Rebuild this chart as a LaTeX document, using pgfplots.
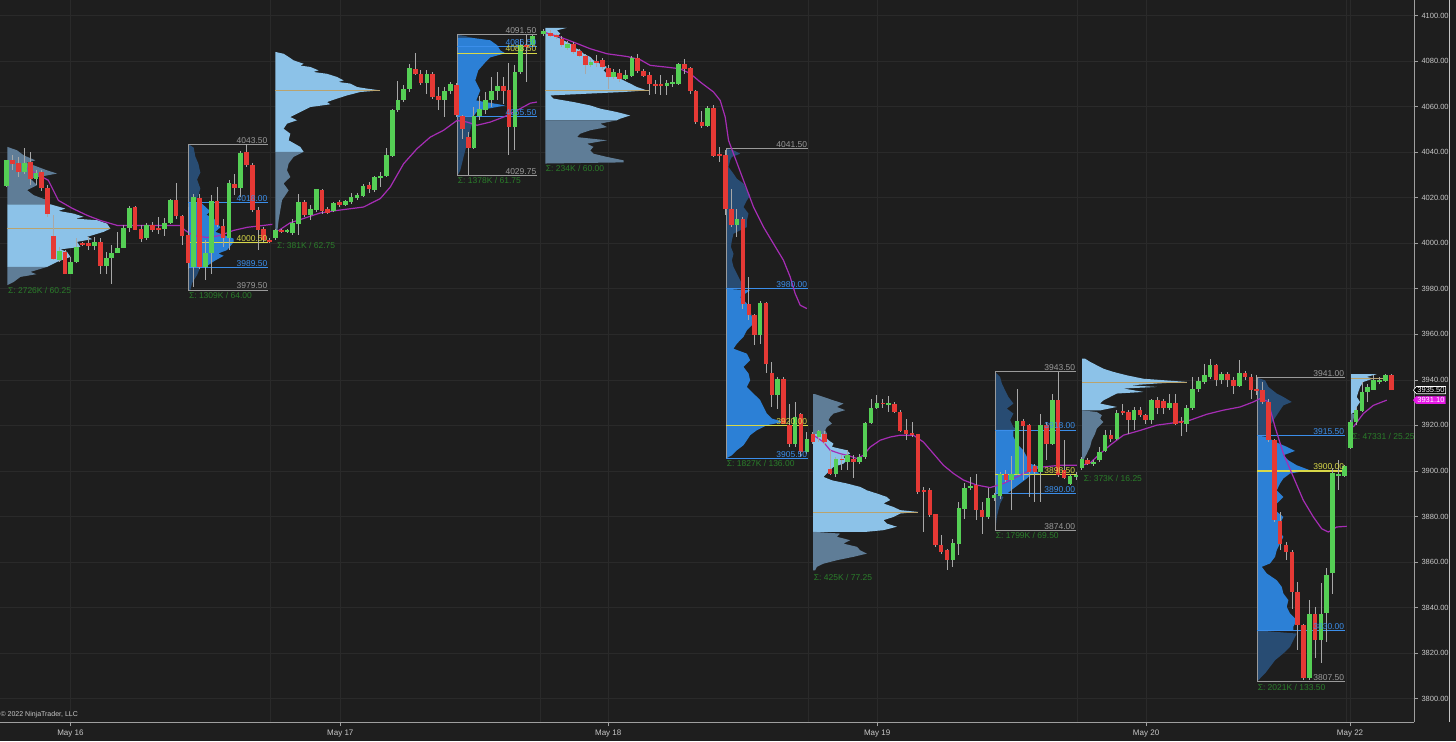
\documentclass[border=0pt]{standalone}
\usepackage{pgfplots}
\pgfplotsset{compat=1.18}
\usepackage{pgfplotstable}
\usepackage{fontspec}
\setmainfont{Liberation Sans}
\usetikzlibrary{shapes.symbols}
\definecolor{bg}{HTML}{1E1E1E}
\definecolor{gridc}{HTML}{2A2A2A}
\definecolor{up}{HTML}{55CF55}
\definecolor{dn}{HTML}{E53935}
\definecolor{wick}{HTML}{A8A8A8}
\definecolor{vwap}{HTML}{A62DB5}
\definecolor{ethva}{HTML}{8CC2E8}
\definecolor{ethout}{HTML}{5F7D97}
\definecolor{rthva}{HTML}{2C80D6}
\definecolor{rthout}{HTML}{284C73}
\definecolor{lgray}{HTML}{9A9A9A}
\definecolor{lblue}{HTML}{3B8EEA}
\definecolor{lyel}{HTML}{D8D848}
\definecolor{ltan}{HTML}{B9A36E}
\definecolor{lgreen}{HTML}{2A7D2A}
\definecolor{tickc}{HTML}{C8C8C8}
\definecolor{magc}{HTML}{E619E6}
\newcommand{\lblfont}{\fontsize{8.5}{9}\selectfont}
\newcommand{\hlev}[4]{\addplot[#4, line width=0.8pt, forget plot] coordinates {(#1,#3)(#2,#3)};}
\newcommand{\vlev}[4]{\addplot[#4, line width=0.8pt, forget plot] coordinates {(#1,#2)(#1,#3)};}
\newcommand{\lbl}[4]{\node[anchor=south east, text=#4, font=\lblfont, inner sep=0.8pt] at (axis cs:#1,#2) {#3};}
\newcommand{\sig}[3]{\node[anchor=west, text=lgreen, font=\lblfont, inner sep=0.5pt] at (axis cs:#1,#2) {#3};}

\pgfplotstableread{
x o h l c
6.0 4025.0 4036.7 4024.7 4036.4
12.3 4036.4 4038.6 4032.3 4035.0
18.3 4035.3 4037.9 4029.1 4031.3
24.0 4031.3 4042.0 4030.6 4035.4
30.0 4035.7 4040.1 4025.5 4028.4
35.7 4028.4 4032.3 4025.5 4030.9
41.3 4031.3 4032.0 4023.0 4024.4
47.3 4024.4 4025.5 4011.6 4012.7
53.0 4003.0 4012.3 3992.5 3993.3
59.0 3992.5 3998.4 3991.8 3996.6
64.7 3996.2 3996.9 3986.7 3986.7
70.3 3986.7 3994.0 3986.7 3991.8
76.3 3991.8 4002.1 3991.1 3998.4
82.3 3999.8 4000.5 3999.0 3999.6
88.0 4000.2 4002.8 3996.9 3998.7
94.0 3998.7 4002.8 3996.9 4000.4
100.0 4000.6 4002.1 3986.7 3990.1
106.0 3989.9 3996.2 3986.7 3993.3
111.3 3993.3 3999.1 3982.3 3995.9
117.3 3995.9 4005.0 3995.5 3998.0
123.3 3998.0 4008.2 3997.7 4006.7
129.0 4006.7 4016.2 4005.0 4015.5
134.7 4015.7 4016.2 4005.7 4005.7
140.7 4006.1 4007.9 4000.6 4001.8
146.3 4002.1 4008.9 4001.3 4008.2
152.0 4008.2 4009.4 4005.0 4005.7
158.0 4006.7 4011.6 4004.2 4006.1
164.0 4006.1 4011.1 4003.1 4009.1
170.0 4009.1 4019.6 4008.6 4018.9
175.7 4018.9 4026.5 4010.8 4012.0
181.7 4012.0 4012.3 3999.1 4003.1
187.7 4003.5 4016.0 3988.9 3991.1
193.3 3989.6 4021.8 3980.8 4020.3
199.3 4019.9 4021.8 3988.9 3989.6
205.0 3989.6 4001.3 3983.8 3995.5
211.0 3995.5 4021.1 3986.7 4018.4
216.7 4018.6 4024.7 4007.2 4007.9
222.7 4007.6 4010.8 3998.4 4002.1
228.7 4002.1 4027.7 3997.2 4026.5
234.3 4026.2 4030.6 4021.1 4024.4
240.0 4024.4 4040.5 4020.3 4039.8
246.0 4040.1 4043.5 4033.5 4034.5
252.0 4034.5 4035.4 4013.8 4014.5
257.7 4014.5 4016.0 3996.9 4005.7
263.3 4006.4 4007.2 4000.6 4001.3
269.3 4001.6 4002.1 3999.9 4000.6
275.3 4002.1 4006.4 4001.3 4005.7
281.0 4005.7 4006.4 4004.6 4005.4
286.7 4005.4 4006.4 4004.6 4005.6
292.3 4004.6 4010.8 4003.5 4009.1
298.0 4008.6 4021.8 4003.5 4018.1
304.0 4018.1 4018.8 4011.5 4012.3
310.0 4012.3 4016.7 4010.1 4014.9
316.0 4014.7 4024.0 4013.7 4023.7
321.7 4023.5 4024.0 4013.0 4014.2
327.3 4015.0 4015.9 4012.7 4013.4
333.3 4014.2 4018.1 4013.7 4017.8
339.0 4018.1 4019.1 4015.9 4016.6
345.0 4016.6 4019.1 4016.3 4018.4
350.7 4018.1 4022.1 4017.4 4020.3
356.7 4020.0 4022.1 4018.8 4021.0
362.7 4020.7 4026.2 4020.3 4025.3
368.7 4025.7 4026.9 4022.1 4023.7
374.3 4023.2 4029.4 4022.5 4029.0
380.0 4029.0 4031.3 4024.7 4029.4
386.0 4029.4 4041.8 4029.1 4038.6
392.0 4038.2 4059.1 4037.9 4058.6
397.7 4058.3 4071.1 4057.6 4063.0
403.3 4062.7 4069.3 4062.0 4067.9
409.3 4067.6 4078.8 4066.4 4076.9
415.0 4076.6 4083.7 4073.7 4074.2
420.7 4074.2 4075.9 4069.3 4070.4
426.7 4070.4 4075.9 4065.4 4074.4
432.3 4074.4 4075.2 4063.5 4064.2
438.3 4064.5 4068.6 4058.3 4062.7
444.0 4062.7 4068.6 4055.4 4066.7
450.0 4066.7 4070.8 4065.7 4070.0
456.0 4069.6 4070.4 4055.4 4056.2
462.0 4055.9 4056.4 4045.9 4050.3
468.0 4046.6 4048.8 4029.8 4042.0
473.7 4042.0 4059.8 4041.5 4055.9
479.3 4055.9 4064.5 4054.0 4058.8
485.3 4058.6 4066.4 4056.9 4062.7
491.3 4063.0 4073.0 4059.8 4066.7
497.3 4066.7 4075.2 4062.7 4068.9
503.0 4069.0 4073.0 4061.3 4066.8
508.7 4067.4 4079.1 4038.6 4051.0
514.7 4051.0 4078.1 4040.8 4075.2
520.3 4075.2 4089.8 4074.4 4086.9
526.3 4086.9 4091.3 4070.8 4086.5
532.3 4086.9 4091.5 4086.5 4090.8
543.3 4091.7 4094.0 4091.0 4093.0
550.0 4092.3 4093.5 4090.5 4091.1
556.0 4091.1 4091.7 4089.8 4090.8
561.7 4089.8 4090.8 4086.1 4086.9
567.3 4085.8 4088.8 4085.0 4087.3
573.3 4087.3 4088.3 4083.2 4084.0
579.0 4084.4 4085.4 4081.8 4082.2
585.0 4082.2 4083.2 4074.4 4078.4
590.7 4078.4 4081.0 4077.4 4079.6
596.0 4079.6 4082.8 4077.4 4079.4
602.0 4080.3 4081.5 4076.6 4077.4
608.0 4076.9 4078.1 4067.9 4073.0
613.3 4073.0 4076.6 4072.2 4075.2
619.3 4074.9 4076.6 4070.8 4072.0
625.3 4072.2 4075.9 4071.8 4074.0
631.7 4073.4 4082.0 4073.0 4081.5
637.3 4081.5 4083.2 4074.9 4075.5
643.3 4075.5 4076.6 4073.0 4073.4
649.0 4074.0 4075.2 4064.9 4069.8
655.0 4070.1 4071.5 4065.7 4069.3
660.7 4069.8 4073.7 4064.9 4069.0
666.7 4069.0 4071.5 4064.9 4070.5
672.3 4070.1 4074.0 4068.6 4070.3
678.3 4069.8 4079.1 4069.3 4078.5
684.0 4078.8 4081.0 4074.1 4076.6
690.0 4077.1 4077.4 4065.7 4066.8
695.7 4066.8 4067.1 4052.2 4053.2
701.7 4053.2 4058.0 4050.7 4051.3
707.3 4051.3 4060.1 4051.0 4059.5
713.3 4059.5 4060.5 4037.9 4038.2
719.3 4039.3 4042.2 4035.7 4038.6
725.0 4038.6 4040.8 4012.3 4015.2
731.0 4015.2 4024.0 4007.1 4007.9
736.7 4007.9 4015.2 4002.7 4010.8
742.7 4010.8 4011.5 3971.3 3973.5
748.7 3973.5 3985.2 3966.2 3968.4
754.0 3968.4 3969.1 3955.2 3959.6
760.0 3959.9 3974.6 3955.9 3973.9
766.0 3973.8 3974.2 3942.8 3946.9
771.7 3942.8 3947.9 3928.1 3933.3
777.3 3933.3 3941.3 3927.4 3940.6
783.3 3940.6 3941.3 3920.8 3920.8
789.3 3920.1 3929.6 3910.6 3912.0
795.0 3912.0 3930.3 3910.6 3923.7
800.7 3924.8 3925.5 3906.2 3908.4
806.7 3908.4 3917.2 3907.6 3914.2
812.7 3916.4 3917.1 3912.0 3912.7
818.7 3914.9 3918.2 3912.7 3917.4
824.3 3916.4 3917.5 3911.5 3912.7
830.0 3901.0 3909.1 3898.1 3898.8
835.7 3898.8 3906.0 3897.5 3905.4
841.7 3905.4 3906.8 3900.3 3904.7
847.3 3904.0 3909.1 3900.3 3906.9
853.3 3905.4 3906.9 3896.7 3904.0
859.3 3904.0 3907.6 3903.2 3906.2
865.0 3906.2 3921.5 3905.4 3921.1
871.0 3921.1 3931.8 3920.8 3927.8
876.7 3927.8 3933.2 3927.4 3930.0
882.7 3930.0 3931.8 3927.8 3929.3
888.3 3929.3 3932.8 3925.9 3929.4
894.3 3929.3 3930.3 3925.5 3925.9
900.0 3925.9 3926.6 3917.1 3917.4
906.0 3917.9 3923.0 3913.5 3916.4
912.0 3916.8 3921.5 3914.9 3916.1
917.7 3916.1 3916.4 3890.1 3890.8
923.7 3891.2 3893.0 3873.2 3891.0
929.7 3891.5 3892.3 3879.8 3880.6
935.3 3881.0 3881.3 3866.7 3867.4
941.0 3867.4 3871.8 3863.7 3864.5
947.0 3865.2 3865.9 3856.4 3860.8
952.7 3861.1 3870.3 3857.9 3868.4
958.7 3868.1 3886.4 3863.0 3883.8
964.3 3883.5 3894.5 3879.1 3892.7
970.3 3893.0 3897.4 3891.5 3893.1
976.0 3893.7 3898.8 3878.4 3882.8
982.0 3883.0 3886.4 3872.5 3879.8
988.0 3879.8 3892.3 3879.1 3888.3
994.0 3888.3 3890.5 3887.0 3889.3
1000.0 3888.9 3899.6 3887.9 3898.6
1005.7 3898.6 3900.3 3895.2 3895.9
1011.3 3895.9 3906.5 3882.8 3898.6
1017.0 3898.8 3936.2 3898.1 3921.8
1023.0 3922.0 3923.0 3895.9 3919.6
1029.0 3920.1 3920.8 3888.6 3899.6
1034.7 3902.1 3903.2 3886.4 3899.6
1040.3 3899.6 3925.2 3886.4 3920.1
1046.3 3920.1 3921.5 3904.7 3911.7
1052.3 3911.7 3934.0 3911.3 3931.0
1058.0 3931.3 3943.5 3897.4 3898.1
1064.0 3900.6 3913.5 3896.7 3897.1
1070.0 3894.5 3898.8 3893.7 3897.7
1076.0 3897.5 3899.5 3896.0 3898.0
1081.7 3901.1 3906.0 3900.5 3905.4
1087.3 3904.7 3905.5 3902.5 3903.2
1093.3 3903.2 3905.0 3902.0 3904.0
1099.3 3904.7 3910.6 3904.0 3908.4
1105.0 3908.8 3917.9 3908.4 3915.7
1110.7 3915.7 3917.9 3912.8 3913.9
1116.7 3914.2 3926.6 3913.5 3925.6
1122.7 3925.9 3929.6 3924.5 3925.8
1128.3 3925.9 3926.6 3916.4 3922.3
1134.0 3922.3 3928.1 3917.9 3926.9
1140.0 3926.9 3928.1 3923.7 3924.5
1145.7 3924.5 3925.2 3920.8 3922.3
1151.7 3922.3 3931.8 3920.8 3931.0
1157.7 3931.0 3932.5 3925.2 3927.8
1163.7 3930.7 3931.8 3925.2 3927.8
1169.3 3927.8 3934.0 3926.6 3929.9
1175.3 3929.9 3934.0 3920.1 3920.8
1181.0 3921.5 3923.7 3915.2 3921.3
1186.7 3920.8 3928.8 3917.1 3927.8
1192.7 3927.8 3941.3 3926.6 3936.2
1198.3 3936.2 3941.3 3934.7 3939.5
1204.3 3939.1 3947.1 3938.4 3942.0
1210.0 3941.3 3949.3 3940.5 3946.4
1216.0 3946.4 3947.1 3937.2 3939.8
1221.7 3939.8 3943.5 3938.4 3942.7
1227.7 3942.7 3943.5 3936.9 3939.8
1233.3 3939.8 3941.3 3934.0 3937.2
1239.3 3937.2 3948.6 3936.9 3943.0
1245.0 3943.0 3943.9 3939.8 3941.3
1251.0 3941.3 3942.7 3931.8 3935.7
1256.7 3935.7 3942.0 3933.2 3935.6
1262.7 3935.4 3939.1 3929.6 3930.3
1268.3 3930.3 3931.8 3912.8 3913.5
1274.3 3913.5 3914.2 3877.6 3878.4
1280.0 3877.9 3882.0 3865.2 3868.1
1286.0 3867.7 3868.9 3860.8 3864.5
1292.0 3864.5 3865.2 3839.6 3846.9
1297.7 3846.9 3851.3 3821.3 3832.3
1303.3 3832.3 3833.0 3808.2 3808.9
1309.3 3808.9 3843.3 3808.2 3837.1
1315.0 3837.1 3840.3 3817.7 3826.0
1321.0 3826.0 3850.6 3815.5 3837.1
1326.7 3837.7 3857.2 3825.0 3854.5
1332.7 3855.0 3901.1 3846.2 3898.9
1338.3 3898.1 3904.7 3891.5 3898.3
1344.7 3897.7 3902.5 3897.4 3902.1
1350.3 3910.3 3922.3 3909.8 3921.5
1356.0 3921.5 3928.1 3920.1 3926.7
1362.0 3926.4 3939.1 3925.9 3934.7
1367.7 3934.7 3938.4 3930.3 3936.9
1373.7 3935.7 3942.0 3935.4 3939.8
1379.3 3939.5 3941.3 3938.4 3939.6
1385.3 3939.5 3942.7 3939.1 3942.0
1391.3 3942.0 3942.5 3935.4 3935.5
}\candles

\begin{document}
\begin{tikzpicture}
\fill[bg] (0,0) rectangle (1456pt,741pt);
\draw[gray!45, line width=0.8pt] (1449pt,19pt) -- (1449pt,741pt);
\begin{axis}[
  at={(0pt,19pt)}, anchor=south west,
  scale only axis, width=1414pt, height=722pt,
  xmin=0, xmax=1414, ymin=3789.68, ymax=4106.63,
  clip mode=individual,
  axis x line*=bottom, axis y line*=right,
  axis line style={draw=gray!75, line width=0.8pt},
  tick align=outside, major tick length=4pt, minor tick length=0pt,
  tick style={draw=gray!75, line width=0.7pt},
  xtick={70,340,608,877,1146,1350},
  xticklabels={May 16,May 17,May 18,May 19,May 20,May 22},
  minor xtick={270,540,808,1077,1346},
  ytick={3800,3820,...,4100},
  ymajorgrids, xmajorgrids, xminorgrids,
  grid style={draw=gridc, line width=0.7pt},
  minor grid style={draw=gridc, line width=0.7pt},
  /pgf/number format/assume math mode=true,
  yticklabel={\pgfmathprintnumber[fixed,fixed zerofill,precision=2,1000 sep={}]{\tick}},
  yticklabel style={font=\fontsize{7.5}{8}\selectfont, text=tickc, xshift=0pt},
  xticklabel style={font=\fontsize{8}{9}\selectfont, text=tickc, yshift=0pt},
]
% ---------- volume profiles ----------
% P1
\addplot[fill=ethout, draw=none, forget plot] coordinates {(7,4042.3) (16.7,4040.8) (23.3,4038.6) (35,4036.4) (26,4035.3) (33.3,4034.2) (46.7,4032.0) (56.7,4030.6) (30,4028.4) (36.7,4025.5) (26.7,4023.3) (33.3,4021.1) (46.7,4018.9) (50,4017.1) (7,4017.1)};
\addplot[fill=ethva, draw=none, forget plot] coordinates {(7,4017.1) (50,4017.1) (65,4015.2) (58,4014.2) (73.3,4013.0) (83.3,4011.6) (75,4010.8) (96.7,4010.1) (106.7,4008.6) (110,4006.4) (103.3,4005.0) (86.7,4002.8) (92,4001.8) (76.7,4000.6) (80,3998.4) (60,3997.3) (66.7,3996.2) (70,3994.0) (56.7,3991.8) (46.7,3989.6) (7,3989.6)};
\addplot[fill=ethout, draw=none, forget plot] coordinates {(7,3989.6) (46.7,3989.6) (30,3987.4) (36,3986.4) (20,3985.2) (13.3,3983.0) (7,3981.6)};
% P2
\addplot[fill=rthout, draw=none, forget plot] coordinates {(188,4043.5) (193.3,4042) (195,4038) (198,4035) (200,4031) (196.7,4028) (200,4024) (198,4021) (195,4018) (188,4018)};
\addplot[fill=rthva, draw=none, forget plot] coordinates {(188,4018) (200,4018) (210,4014) (206,4012.5) (213.3,4011) (220,4007) (215,4005) (233.3,4002) (233.3,4000.5) (226.7,3997) (218,3995.5) (223.3,3994.5) (213.3,3992) (205,3989.5) (188,3989.5)};
\addplot[fill=rthout, draw=none, forget plot] coordinates {(188,3989.5) (200,3989.5) (196.7,3986) (191.7,3982.5) (190,3979.5) (188,3979.5)};
% P3
\addplot[fill=ethva, draw=none, forget plot] coordinates {(275,4084.0) (283.3,4083.2) (288.3,4081.8) (293.3,4080.3) (303.3,4078.8) (300,4078.0) (310,4077.4) (318.3,4075.9) (313,4075.2) (326.7,4074.4) (336.7,4073.0) (343.3,4071.5) (338,4070.8) (350,4070.1) (356.7,4068.6) (366.7,4067.9) (380,4067.1) (360,4066.4) (346.7,4064.9) (336.7,4063.5) (326.7,4062.0) (330,4061) (310,4059.8) (300,4057.6) (290,4055.4) (296.7,4054.0) (286.7,4052.5) (283.3,4050.3) (290,4048.1) (288.3,4045.2) (300,4042.3) (303.3,4040.1) (275,4040.1)};
\addplot[fill=ethout, draw=none, forget plot] coordinates {(275,4040.1) (303.3,4040.1) (293.3,4037.9) (288.3,4035.0) (286.7,4032.0) (290,4029.1) (283.3,4026.2) (288.3,4023.2) (281.7,4018.9) (280,4014.5) (278.3,4010.1) (276.7,4004.2) (275,4003.5)};
% P4
\addplot[fill=rthout, draw=none, forget plot] coordinates {(457,4091.5) (465,4091.0) (470,4090.3) (457,4090.3)};
\addplot[fill=rthva, draw=none, forget plot] coordinates {(457,4090.3) (470,4090.3) (490,4089.1) (497,4086.9) (500,4084.7) (505,4083.4) (490,4081.6) (485,4079.4) (478,4075.9) (475,4071.5) (480,4067.1) (476,4062.7) (505,4060.5) (478,4058.3) (476,4057.5) (473,4055.5) (457,4055.5)};
\addplot[fill=rthout, draw=none, forget plot] coordinates {(457,4055.5) (473.3,4055.5) (471.7,4052.5) (470,4049.6) (468.3,4046.6) (466.7,4043.7) (465,4040.8) (463.3,4037.9) (461.7,4035.0) (460,4032.0) (457.3,4029.75) (457,4029.75)};
% P5
\addplot[fill=ethva, draw=none, forget plot] coordinates {(545,4094.6) (566.7,4094.6) (556.7,4093.5) (560,4092.0) (556.7,4090.5) (563.3,4089.1) (570,4087.6) (573.3,4086.1) (580,4084.7) (583.3,4083.2) (590,4081.8) (593.3,4080.3) (600,4078.8) (606.7,4077.4) (603.3,4075.9) (606.7,4074.4) (616.7,4073.0) (623.3,4071.5) (630,4070.1) (636.7,4068.6) (646.7,4067.1) (623.3,4066.4) (550,4064.9) (553.3,4063.5) (573.3,4062.0) (590,4060.5) (600,4059.1) (616.7,4057.6) (630,4056.1) (620,4054.7) (616.7,4054.0) (545,4054.0)};
\addplot[fill=ethout, draw=none, forget plot] coordinates {(545,4054.0) (616.7,4054.0) (600,4052.5) (606.7,4051.0) (590,4049.6) (580,4048.1) (576.7,4046.6) (606.7,4045.2) (586.7,4043.7) (593.3,4042.3) (590,4040.8) (593.3,4039.3) (606.7,4037.9) (623.3,4036.4) (623.3,4035.5) (545,4035.0)};
% P6
\addplot[fill=rthout, draw=none, forget plot] coordinates {(726,4041.5) (733.3,4040.8) (740,4039.3) (731.7,4037.9) (730,4036.4) (728.3,4033.5) (733.3,4030.5) (736.7,4028.3) (743.3,4026.2) (746.7,4023.2) (750,4021.0) (746.7,4018.8) (743.3,4015.9) (748.3,4013.0) (746.7,4010.1) (746.7,4007.1) (733.3,4004.2) (731.7,4001.3) (730.7,3998.4) (733.3,3995.4) (731.7,3992.5) (733.3,3989.6) (736.7,3986.6) (740,3983.7) (743.3,3980.8) (745,3980.0) (726,3980.0)};
\addplot[fill=rthva, draw=none, forget plot] coordinates {(726,3980.0) (750,3979.3) (740,3976.4) (746.7,3973.5) (750,3970.6) (751.7,3967.6) (753.3,3964.7) (746.7,3961.8) (743.3,3958.9) (736.7,3955.9) (733.3,3953.7) (746.7,3951.5) (750,3948.6) (743.3,3945.7) (748.3,3942.8) (750,3939.8) (746.7,3936.9) (753.3,3934.0) (760,3931.1) (763.3,3928.1) (766.7,3925.2) (771.7,3923.0) (783.3,3921.5) (766.7,3920.1) (756.7,3917.9) (750,3915.7) (746.7,3913.5) (743.3,3911.3) (736.7,3909.1) (731.7,3906.9) (726,3905.5)};
% P7
\addplot[fill=ethout, draw=none, forget plot] coordinates {(813,3933.7) (815,3933.7) (823.3,3932.5) (833.3,3931.0) (843.3,3929.6) (836.7,3928.1) (845,3926.7) (833.3,3925.2) (830,3923.7) (828.3,3922.3) (831.7,3920.8) (826.7,3919.3) (825,3917.9) (826.7,3916.4) (813,3916.4)};
\addplot[fill=ethva, draw=none, forget plot] coordinates {(813,3916.4) (826.7,3916.4) (825,3915.0) (828.3,3913.5) (833.3,3912.0) (831.7,3910.6) (846.7,3909.1) (850,3907.6) (843.3,3906.2) (846.7,3904.7) (843.3,3903.2) (833.3,3901.8) (830,3900.3) (826.7,3898.9) (823.3,3897.4) (831.7,3895.9) (846.7,3894.5) (860,3893.0) (866.7,3891.5) (876.7,3890.1) (886.7,3888.6) (890,3887.2) (883.3,3885.7) (893.3,3884.2) (900,3882.8) (918.3,3882.0) (900,3881.3) (893.3,3879.8) (883.3,3878.4) (886.7,3876.9) (896.7,3875.5) (883.3,3874.0) (866.7,3873.3) (813,3873.3)};
\addplot[fill=ethout, draw=none, forget plot] coordinates {(813,3873.3) (840,3872.5) (836.7,3871.1) (850,3869.6) (843.3,3868.1) (856.7,3866.7) (860,3865.2) (866.7,3863.7) (853.3,3862.3) (836.7,3860.8) (823.3,3859.3) (816.7,3857.9) (815,3856.4) (813,3856.4)};
% P8
\addplot[fill=rthout, draw=none, forget plot] coordinates {(995,3943.5) (1000,3941.3) (1001.7,3938.4) (1005,3935.4) (1008.3,3932.5) (1013.3,3929.6) (1006.7,3927.4) (1013.3,3925.2) (1010,3922.3) (1013.3,3919.3) (1016.7,3918.0) (995,3918.0)};
\addplot[fill=rthva, draw=none, forget plot] coordinates {(995,3918.0) (1013.3,3918.0) (1013.3,3915.0) (1016.7,3912.0) (1023.3,3909.1) (1026.7,3906.2) (1030,3903.2) (1040,3901.8) (1033.3,3900.3) (1040,3898.9) (1030,3898.1) (1026.7,3896.7) (1020,3894.5) (1013.3,3892.3) (1006.7,3890.0) (995,3890.0)};
\addplot[fill=rthout, draw=none, forget plot] coordinates {(995,3890.0) (1003.3,3888.6) (1000,3885.7) (998.3,3882.8) (996.7,3879.8) (996,3876.9) (995.5,3874.0) (995,3874.0)};
% P9
\addplot[fill=ethva, draw=none, forget plot] coordinates {(1082,3949.3) (1085,3949.3) (1090,3947.9) (1096.7,3946.4) (1103.3,3944.9) (1113.3,3943.5) (1126.7,3942.0) (1143.3,3940.5) (1186.7,3939.1) (1156.7,3938.4) (1130,3937.6) (1156.7,3936.9) (1123.3,3936.2) (1143.3,3934.7) (1116.7,3934.0) (1110,3932.5) (1103.3,3931.0) (1100,3929.6) (1116.7,3928.1) (1100,3926.6) (1082,3926.6)};
\addplot[fill=ethout, draw=none, forget plot] coordinates {(1082,3926.6) (1096.7,3925.9) (1101.7,3924.5) (1100,3923.0) (1103.3,3921.5) (1100,3920.1) (1096.7,3918.6) (1095,3916.4) (1091.7,3913.5) (1090,3910.6) (1086.7,3907.6) (1083.3,3904.7) (1082,3904.7)};
% P10
\addplot[fill=rthout, draw=none, forget plot] coordinates {(1257,3941.0) (1265,3939.8) (1268.3,3936.9) (1276.7,3934.0) (1283.3,3932.5) (1291.7,3930.3) (1283.3,3928.8) (1280,3926.7) (1276.7,3924.5) (1273.3,3922.3) (1270,3920.1) (1268.3,3917.9) (1266.7,3915.5) (1257,3915.5)};
\addplot[fill=rthva, draw=none, forget plot] coordinates {(1257,3915.5) (1266.7,3915.0) (1275,3912.8) (1286.7,3910.6) (1295,3908.8) (1283.3,3906.9) (1288.3,3904.7) (1296.7,3902.5) (1310,3900.3) (1290,3898.9) (1283.3,3896.7) (1280,3894.5) (1276.7,3891.5) (1283.3,3888.6) (1276.7,3885.7) (1275,3882.8) (1283.3,3879.8) (1280,3876.9) (1278.3,3874.0) (1283.3,3871.1) (1280,3868.1) (1276.7,3865.2) (1275,3862.3) (1270,3859.4) (1261.7,3857.9) (1266.7,3855.0) (1276.7,3852.0) (1281.7,3849.1) (1283.3,3846.2) (1288.3,3843.3) (1286.7,3840.3) (1290,3837.4) (1296.7,3834.5) (1293.3,3831.6) (1293.3,3830.0) (1257,3830.0)};
\addplot[fill=rthout, draw=none, forget plot] coordinates {(1257,3830.0) (1296.7,3828.6) (1293.3,3825.7) (1290,3822.8) (1283.3,3819.9) (1275,3816.9) (1270,3814.0) (1265,3811.1) (1260,3808.9) (1257,3807.5)};
% P11
\addplot[fill=ethva, draw=none, forget plot] coordinates {(1351,3942.5) (1376.7,3942.5) (1366.7,3941.3) (1373.3,3940.6) (1363.3,3939.1) (1360,3936.9) (1358.3,3934.7) (1356.7,3932.5) (1360,3930.3) (1356.7,3928.1) (1355,3925.9) (1351,3925.0)};
\addplot[fill=ethout, draw=none, forget plot] coordinates {(1351,3925.0) (1355,3925.0) (1354,3923.7) (1352.7,3921.5) (1351.7,3918.6) (1351,3918.6)};

% ---------- POC lines of overnight profiles ----------
\hlev{7}{110}{4006.4}{ltan}
\hlev{275}{380}{4067.1}{ltan}
\hlev{545}{650}{4067.1}{ltan}
\hlev{813}{918}{3882.0}{ltan}
\hlev{1082}{1187}{3939.1}{ltan}
\hlev{1351}{1385}{3940.6}{ltan}

% ---------- RTH boxes ----------
\vlev{188}{4043.5}{3979.5}{lgray}
\hlev{188}{268}{4043.5}{lgray}\hlev{188}{268}{3979.5}{lgray}
\hlev{188}{268}{4018}{lblue}\hlev{188}{268}{3989.5}{lblue}\hlev{188}{268}{4000.5}{lyel}
\vlev{457}{4091.5}{4029.75}{lgray}
\hlev{457}{537}{4091.5}{lgray}\hlev{457}{537}{4029.75}{lgray}
\hlev{457}{537}{4086.5}{lblue}\hlev{457}{537}{4055.5}{lblue}\hlev{457}{537}{4083.5}{lyel}
\vlev{726}{4041.5}{3905.5}{lgray}
\hlev{726}{808}{4041.5}{lgray}\hlev{726}{808}{3905.5}{lblue}
\hlev{726}{808}{3980}{lblue}\hlev{726}{808}{3920}{lyel}
\vlev{995}{3943.5}{3874}{lgray}
\hlev{995}{1076}{3943.5}{lgray}\hlev{995}{1076}{3874}{lgray}
\hlev{995}{1076}{3918}{lblue}\hlev{995}{1076}{3890}{lblue}\hlev{995}{1076}{3898.5}{lyel}
\vlev{1257}{3941}{3807.5}{lgray}
\hlev{1257}{1345}{3941}{lgray}\hlev{1257}{1345}{3807.5}{lgray}
\hlev{1257}{1345}{3915.5}{lblue}\hlev{1257}{1345}{3830}{lblue}
\addplot[lyel, line width=1.6pt, forget plot] coordinates {(1257,3900)(1345,3900)};

% ---------- VWAP ----------
\addplot[vwap, line width=1.2pt, forget plot] coordinates {(24,4033.5) (48,4027.6) (58,4018.8) (72,4015.3) (87,4012.2) (100,4010.0) (110,4008.7) (117,4007.8) (180,4007.8) (185,4005.6) (193,4003.4) (207,4002.5) (220,4003.4) (233,4005.6) (247,4007.0) (263,4007.8) (272,4008.3)};
\addplot[vwap, line width=1.2pt, forget plot] coordinates {(278,4005.5) (290,4009) (300,4010.4) (320,4013.3) (336.7,4014.4) (363.3,4015.9) (380,4019.6) (390,4024.7) (403.3,4034.9) (416.7,4041.5) (430,4046.6) (443.3,4049.6) (456.7,4053.9) (466.7,4053.2) (476.7,4051.8) (490,4053.2) (503.3,4055.4) (516.7,4058.3) (530,4061.5) (536.7,4062.0)};
\addplot[vwap, line width=1.2pt, forget plot] coordinates {(543.3,4092.7) (560,4090.5) (573.3,4088.3) (590,4085.4) (606.7,4083.2) (626.7,4082.0) (640,4080.6) (650,4078.1) (666.7,4077.3) (680,4076.6) (690,4074.5) (700,4070.8) (713.3,4066.4) (720,4062.7) (725,4055.4) (728.3,4045.2) (733.3,4039.3) (743.3,4027.6) (753.3,4015.9) (763.3,4007.1) (773.3,3999.8) (783.3,3992.5) (790,3985.2) (795,3977.9) (800,3972.8) (806.7,3971.3)};
\addplot[vwap, line width=1.2pt, forget plot] coordinates {(813.3,3915.7) (823.3,3912.7) (830,3909.1) (840,3907.6) (850,3906.5) (856.7,3905.5) (863.3,3906.9) (870,3910.5) (880,3913.5) (890,3914.9) (900,3915.7) (913.3,3915.7) (923.3,3912.7) (933.3,3907.6) (943.3,3902.5) (953.3,3898.9) (963.3,3896.0) (976.7,3893.8) (990,3892.7) (1003.3,3894.5) (1016.7,3897.4) (1030,3900.3) (1043.3,3901.8) (1060,3902.5) (1076.7,3902.5)};
\addplot[vwap, line width=1.2pt, forget plot] coordinates {(1081.7,3902.5) (1090,3903.5) (1100,3907.6) (1110,3911.3) (1123.3,3915.7) (1140,3917.8) (1156.7,3920.1) (1173.3,3921.1) (1190,3922.3) (1206.7,3924.9) (1223.3,3926.7) (1240,3928.1) (1253.3,3930.3) (1260,3931.8) (1268,3930.5) (1275,3919.3) (1283.3,3907.6) (1293.3,3897.4) (1303.3,3887.1) (1313.3,3879.8) (1321.7,3874.6) (1328.3,3873.2) (1336.7,3875.4) (1346.7,3875.7)};
\addplot[vwap, line width=1.2pt, forget plot] coordinates {(1353.3,3919.3) (1363.3,3925.2) (1373.3,3928.8) (1386.7,3931.1)};

% ---------- candles ----------
\addplot[draw=none, mark=none, forget plot,
  error bars/.cd, y dir=both, y explicit, error mark=none,
  error bar style={draw=wick, line width=1pt}]
  table[x=x, y expr={(\thisrow{h}+\thisrow{l})/2}, y error expr={(\thisrow{h}-\thisrow{l})/2}] {\candles};
\addplot[draw=none, mark=none, forget plot,
  restrict expr to domain={\thisrow{c}-\thisrow{o}}{0:1000},
  error bars/.cd, y dir=both, y explicit, error mark=none,
  error bar style={draw=up, line width=4.6pt, line cap=butt}]
  table[x=x, y expr={(\thisrow{o}+\thisrow{c})/2}, y error expr={max(abs(\thisrow{c}-\thisrow{o})/2,0.4)}] {\candles};
\addplot[draw=none, mark=none, forget plot,
  restrict expr to domain={\thisrow{c}-\thisrow{o}}{-1000:-0.001},
  error bars/.cd, y dir=both, y explicit, error mark=none,
  error bar style={draw=dn, line width=4.6pt, line cap=butt}]
  table[x=x, y expr={(\thisrow{o}+\thisrow{c})/2}, y error expr={max(abs(\thisrow{c}-\thisrow{o})/2,0.4)}] {\candles};

% ---------- labels ----------
\lbl{268}{4043.5}{4043.50}{lgray}\lbl{268}{4018}{4018.00}{lblue}\lbl{268}{4000.5}{4000.50}{lyel}
\lbl{268}{3989.5}{3989.50}{lblue}\lbl{268}{3979.5}{3979.50}{lgray}
\lbl{537}{4091.5}{4091.50}{lgray}\lbl{537}{4086.5}{4086.50}{lblue}\lbl{537}{4083.5}{4083.50}{lyel}
\lbl{537}{4055.5}{4055.50}{lblue}\lbl{537}{4029.75}{4029.75}{lgray}
\lbl{808}{4041.5}{4041.50}{lgray}\lbl{808}{3980}{3980.00}{lblue}\lbl{808}{3920}{3920.00}{lyel}
\lbl{808}{3905.5}{3905.50}{lblue}
\lbl{1076}{3943.5}{3943.50}{lgray}\lbl{1076}{3918}{3918.00}{lblue}\lbl{1076}{3898.5}{3898.50}{lyel}
\lbl{1076}{3890}{3890.00}{lblue}\lbl{1076}{3874}{3874.00}{lgray}
\lbl{1345}{3941}{3941.00}{lgray}\lbl{1345}{3915.5}{3915.50}{lblue}\lbl{1345}{3900}{3900.00}{lyel}
\lbl{1345}{3830}{3830.00}{lblue}\lbl{1345}{3807.5}{3807.50}{lgray}
\sig{7}{3979.3}{Σ: 2726K / 60.25}
\sig{188}{3977.1}{Σ: 1309K / 64.00}
\sig{276}{3999.1}{Σ: 381K / 62.75}
\sig{457}{4027.6}{Σ: 1378K / 61.75}
\sig{545}{4032.9}{Σ: 234K / 60.00}
\sig{726}{3903.4}{Σ: 1827K / 136.00}
\sig{813}{3853.3}{Σ: 425K / 77.25}
\sig{995}{3871.8}{Σ: 1799K / 69.50}
\sig{1083}{3896.8}{Σ: 373K / 16.25}
\sig{1257}{3805.1}{Σ: 2021K / 133.50}
\sig{1352}{3915.2}{Σ: 47331 / 25.25}
\node[anchor=west, text=tickc, font=\fontsize{7}{8}\selectfont, inner sep=0pt] at (axis cs:0,3792.8) {\textcopyright\ 2022 NinjaTrader, LLC};
\node[signal, signal to=west, signal pointer angle=100, fill=black, draw=white, line width=0.6pt, text=white, font=\fontsize{7.5}{8}\selectfont, inner sep=1pt, anchor=west] at (axis cs:1413,3935.5) {3935.50};
\node[signal, signal to=west, signal pointer angle=100, fill=magc, draw=magc, text=white, font=\fontsize{7.5}{8}\selectfont, inner sep=1pt, anchor=west] at (axis cs:1413,3931.1) {3931.10};
\end{axis}
\end{tikzpicture}
\end{document}
